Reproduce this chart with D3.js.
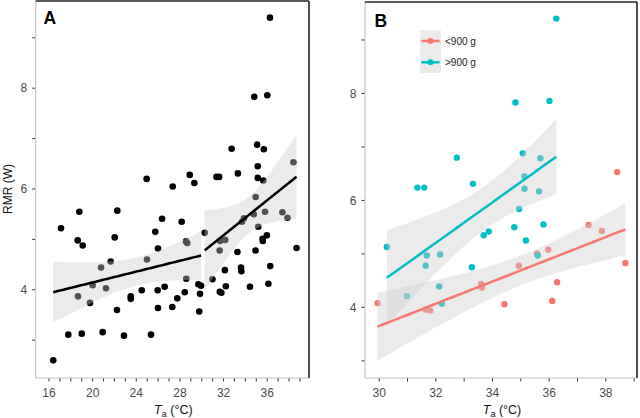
<!DOCTYPE html>
<html><head><meta charset="utf-8">
<script src="https://cdn.jsdelivr.net/npm/d3@7"></script>
<style>body{margin:0;background:#fff;}svg{display:block;font-family:"Liberation Sans",Arial,sans-serif;}</style>
</head><body><svg id="c" width="640" height="418"></svg>
<script>
// Panel A points with Ta below 29.9 °C (only shown in panel A)
const lowTa  = [24.95,27.34,28.90,29.32,18.78,22.26,17.10,26.36,18.63,19.09,22.02,25.74,25.99,21.65,20.77,24.98,20.00,21.22,18.66,19.76,23.49,23.49,24.50,25.96,26.60,25.99,22.23,27.30,17.77,19.00,20.92,22.87,25.35,16.39,28.16,28.56,28.67,28.58,29.69,29.84,29.77,28.44,27.76];
const lowRmr = [6.20,6.05,6.28,6.12,5.55,5.57,5.22,5.41,4.98,4.88,5.04,5.15,4.82,4.56,4.44,4.60,4.09,4.03,3.87,3.74,3.87,3.82,3.99,3.99,4.06,3.64,3.60,3.66,3.11,3.13,3.16,3.09,3.11,2.60,5.35,4.96,4.93,4.22,4.11,3.92,3.57,3.95,3.83];
// <900 g group
const smallTa  = [29.94,31.65,31.80,33.60,33.63,34.42,34.93,35.57,35.97,36.11,36.28,37.39,37.86,38.40,38.69];
const smallRmr = [4.08,3.96,3.94,4.44,4.37,4.06,4.78,5.01,5.08,4.12,4.47,5.54,5.43,6.53,4.83];
// >900 g group
const largeTa  = [30.27,30.98,31.35,31.59,31.64,31.68,32.12,32.15,32.21,32.74,33.27,33.31,33.69,33.87,34.77,34.81,34.94,35.07,35.13,35.13,35.18,35.60,35.64,35.69,35.80,36.01,36.25];
const largeRmr = [5.13,4.21,6.24,6.24,4.78,4.97,4.39,4.99,4.07,6.80,4.75,6.31,5.35,5.42,5.50,7.83,5.84,6.88,6.45,6.22,5.25,4.97,6.17,6.79,5.55,7.86,9.40];
const groupLabels = ["<900 g", ">900 g"];
const groupColors = ["#F8766D", "#00BFC4"];
const breakTa = 30.1;
const yTicksLabeled = [4, 6, 8];
const yTicksAll = [3, 4, 5, 6, 7, 8, 9];
const xTicksA = d3.range(16, 40, 1), xLabA = [16, 20, 24, 28, 32, 36];
const xTicksB = d3.range(30, 40, 1), xLabB = [30, 32, 34, 36, 38];

const svg = d3.select("#c");

function tq(df){const z=1.959964;return z+(z**3+z)/(4*df)+(5*z**5+16*z**3+3*z)/(96*df*df)+(3*z**7+19*z**5+17*z**3-15*z)/(384*df**3);}
function fit(xs, ys){
  const n=xs.length, xb=d3.mean(xs), yb=d3.mean(ys);
  let sxx=0,sxy=0; for(let i=0;i<n;i++){sxx+=(xs[i]-xb)**2;sxy+=(xs[i]-xb)*(ys[i]-yb);}
  const b=sxy/sxx, a=yb-b*xb;
  let sse=0; for(let i=0;i<n;i++){sse+=(ys[i]-a-b*xs[i])**2;}
  const s=Math.sqrt(sse/(n-2)), t=tq(n-2);
  const [lo,hi]=d3.extent(xs);
  return d3.range(0,81).map(k=>{const x=lo+(hi-lo)*k/80;const y=a+b*x;const se=s*Math.sqrt(1/n+(x-xb)**2/sxx);return {x,y,lo:y-t*se,hi:y+t*se};});
}

function panel(o){
  const {x,y,left,right,top,bottom,xTicks,xLab,label,labX,labY}=o;
  const g=svg.append("g");
  // ticks y
  yTicksAll.forEach(v=>{g.append("line").attr("x1",left-3.5).attr("x2",left).attr("y1",y(v)).attr("y2",y(v)).attr("stroke","#333").attr("stroke-width",1);});
  yTicksLabeled.forEach(v=>{g.append("text").attr("x",left-8.5).attr("y",y(v)+4.2).attr("text-anchor","end").attr("font-size",12).attr("fill","#4d4d4d").text(v);});
  xTicks.forEach(v=>{g.append("line").attr("x1",x(v)).attr("x2",x(v)).attr("y1",bottom).attr("y2",bottom+3.5).attr("stroke","#333").attr("stroke-width",1);});
  xLab.forEach(v=>{g.append("text").attr("x",x(v)).attr("y",bottom+19).attr("text-anchor","middle").attr("font-size",12).attr("fill","#4d4d4d").text(v);});
  // axis lines
  g.append("line").attr("x1",left).attr("x2",left).attr("y1",top).attr("y2",bottom).attr("stroke","#c4c4c4").attr("stroke-width",1.2);
  g.append("line").attr("x1",left).attr("x2",right).attr("y1",bottom).attr("y2",bottom).attr("stroke","#c4c4c4").attr("stroke-width",1.2);
  g.append("line").attr("x1",left).attr("x2",right).attr("y1",top).attr("y2",top).attr("stroke","#222").attr("stroke-width",1.6);
  g.append("line").attr("x1",right).attr("x2",right).attr("y1",top).attr("y2",bottom).attr("stroke","#222").attr("stroke-width",1.6);
  g.append("text").attr("x",labX).attr("y",labY).attr("font-size",17.5).attr("font-weight","bold").attr("fill","#000").text(label);
  // x title
  const tt=g.append("text").attr("x",(left+right)/2+1).attr("y",413.5).attr("text-anchor","middle").attr("font-size",12.5).attr("fill","#111");
  tt.append("tspan").attr("font-style","italic").text("T");
  tt.append("tspan").attr("font-size",9).attr("dy",3).text("a");
  tt.append("tspan").attr("dy",-3).text(" (°C)");
  return g;
}

function drawFit(g,x,y,pts,color){
  const f=fit(pts.map(d=>d[0]),pts.map(d=>d[1]));
  const area=d3.area().x(d=>x(d.x)).y0(d=>y(d.lo)).y1(d=>y(d.hi));
  g.append("path").datum(f).attr("d",area).attr("fill","#cccccc").attr("fill-opacity",0.4);
  return ()=>g.append("path").datum(f).attr("d",d3.line().x(d=>x(d.x)).y(d=>y(d.y))).attr("fill","none").attr("stroke",color).attr("stroke-width",2.5);
}

// ---- Panel A ----
const xA=d3.scaleLinear().domain([14.78,39.83]).range([35.7,309]);
const yA=d3.scaleLinear().domain([2.25,9.75]).range([378,0]);
const gA=panel({x:xA,y:yA,left:35.7,right:309,top:1,bottom:378,xTicks:xTicksA,xLab:xLabA,label:"A",labX:43.5,labY:24});
const allA=lowTa.map((t,i)=>[t,lowRmr[i]]).concat(smallTa.map((t,i)=>[t,smallRmr[i]]),largeTa.map((t,i)=>[t,largeRmr[i]]));
gA.append("g").selectAll("circle").data(allA).join("circle").attr("cx",d=>xA(d[0])).attr("cy",d=>yA(d[1])).attr("r",3.3).attr("fill","#000");
const la1=drawFit(gA,xA,yA,allA.filter(d=>d[0]<breakTa),"#000");
const la2=drawFit(gA,xA,yA,allA.filter(d=>d[0]>=breakTa),"#000");
la1();la2();
svg.append("text").attr("transform","translate(11.5,189) rotate(-90)").attr("text-anchor","middle").attr("font-size",12).attr("fill","#111").text("RMR (W)");

// ---- Panel B ----
const xB=d3.scaleLinear().domain([29.5,39.1]).range([365,637]);
const yB=d3.scaleLinear().domain([2.68,9.71]).range([378,2]);
const gB=panel({x:xB,y:yB,left:365,right:637,top:2,bottom:378,xTicks:xTicksB,xLab:xLabB,label:"B",labX:374.5,labY:27.3});
const grpB=[smallTa.map((t,i)=>[t,smallRmr[i]]), largeTa.map((t,i)=>[t,largeRmr[i]])];
grpB.forEach((pts,k)=>{gB.append("g").selectAll("circle").data(pts).join("circle").attr("cx",d=>xB(d[0])).attr("cy",d=>yB(d[1])).attr("r",3.2).attr("fill",groupColors[k]);});
const lb=grpB.map((pts,k)=>drawFit(gB,xB,yB,pts,groupColors[k]));
lb.forEach(f=>f());

// legend
const lg=svg.append("g");
lg.append("rect").attr("x",420).attr("y",30).attr("width",21).attr("height",43).attr("fill","#ebebeb");
groupLabels.forEach((s,k)=>{
  const cy=41+k*21.3;
  lg.append("line").attr("x1",421.5).attr("x2",439.5).attr("y1",cy).attr("y2",cy).attr("stroke",groupColors[k]).attr("stroke-width",2.5);
  lg.append("circle").attr("cx",430.5).attr("cy",cy).attr("r",3).attr("fill",groupColors[k]);
  lg.append("text").attr("x",445).attr("y",cy+3.6).attr("font-size",10).attr("fill","#222").text(s);
});
</script></body></html>
